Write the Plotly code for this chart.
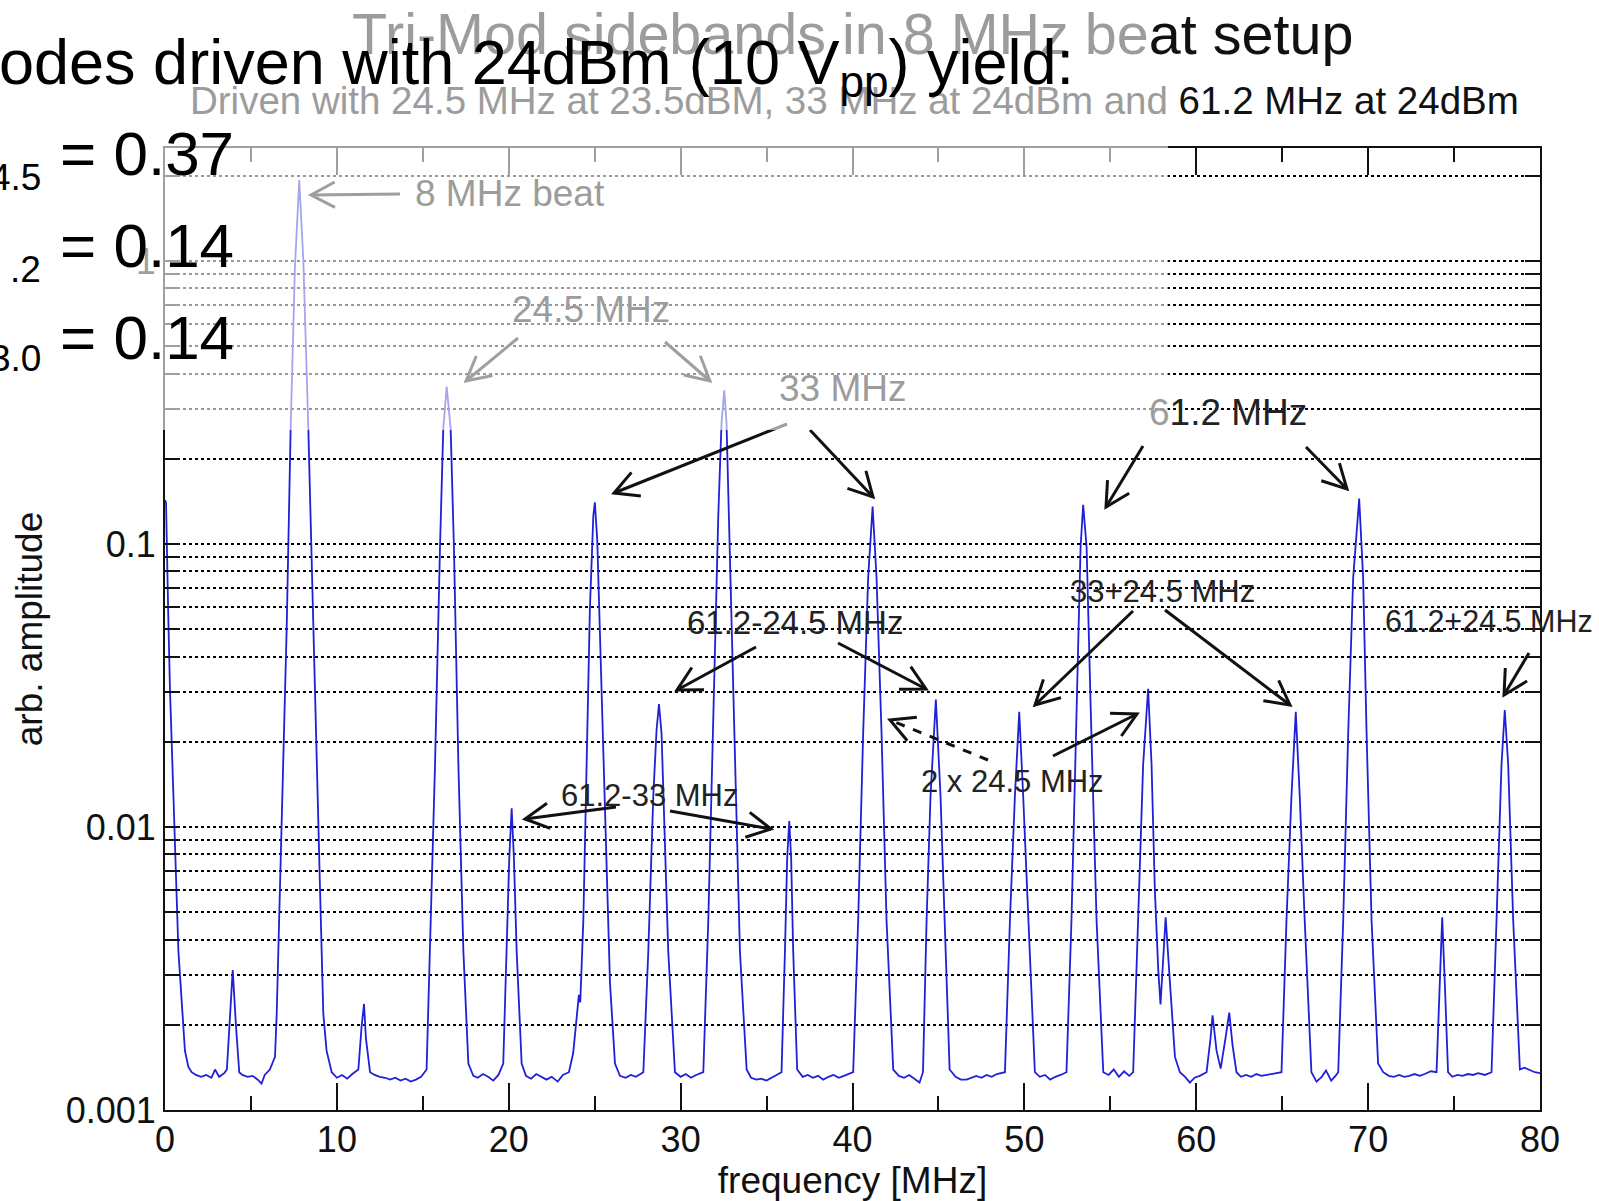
import math
import plotly.graph_objects as go

# ---------------- data ----------------
freq_mhz = [
    0.00, 0.06, 0.19, 0.29, 0.49, 0.78, 1.16, 1.36, 1.55, 1.80, 2.10, 2.40, 2.70, 2.91, 3.15,
    3.45, 3.60, 3.78, 3.94, 4.13, 4.32, 4.50, 4.80, 5.10, 5.40, 5.62, 5.80, 6.10,
    6.40, 6.50, 6.79, 7.08, 7.31, 7.56, 7.81, 8.05, 8.34, 8.59, 8.82, 9.02, 9.21, 9.40, 9.70,
    10.00, 10.30, 10.60, 10.90, 11.25, 11.44, 11.58, 11.69, 11.93,
    12.20, 12.50, 12.80, 13.10, 13.40, 13.70, 14.00, 14.30, 14.60, 14.90,
    15.22, 15.42, 15.71, 16.00, 16.19, 16.39, 16.62, 16.81, 17.07, 17.36, 17.65, 17.94,
    18.20, 18.50, 18.80, 19.10, 19.40, 19.68, 19.87, 20.03, 20.17, 20.30, 20.46, 20.75,
    21.00, 21.30, 21.60, 21.90, 22.20, 22.50, 22.85, 23.15, 23.50, 23.75, 24.00, 24.08, 24.16,
    24.34, 24.53, 24.72, 24.92, 25.01, 25.15, 25.31, 25.60, 25.89, 26.18, 26.47,
    26.80, 27.10, 27.40, 27.83, 28.12, 28.41, 28.60, 28.74, 28.89, 28.99, 29.28, 29.67,
    30.00, 30.30, 30.60, 30.90, 31.32, 31.61, 31.90, 32.19, 32.38, 32.54, 32.67, 32.86, 33.15, 33.45, 33.84,
    34.10, 34.40, 34.70, 35.00, 35.30, 35.87, 36.07, 36.20, 36.32, 36.43, 36.55, 36.78,
    37.10, 37.40, 37.70, 38.00, 38.30, 38.60, 38.90, 39.20, 39.50,
    40.04, 40.33, 40.62, 40.91, 41.17, 41.40, 41.69, 41.98, 42.37,
    42.70, 43.00, 43.30, 43.60, 43.90, 44.10, 44.31, 44.54, 44.85, 45.12, 45.37, 45.65,
    46.00, 46.30, 46.64, 46.90, 47.20, 47.50, 47.80, 48.10, 48.40,
    48.87, 49.16, 49.45, 49.70, 49.93, 50.22, 50.61, 50.90, 51.20, 51.50, 51.80, 52.10,
    52.45, 52.74, 53.03, 53.27, 53.42, 53.62, 53.85, 54.20, 54.59,
    54.90, 55.20, 55.50, 55.80, 56.10, 56.33, 56.62, 56.91, 57.20, 57.40, 57.59, 57.79, 57.92,
    58.08, 58.22, 58.47, 58.76, 59.05, 59.35, 59.63, 59.90, 60.20,
    60.60, 60.83, 60.95, 61.18, 61.42, 61.70, 61.92, 62.11, 62.34,
    62.60, 62.90, 63.20, 63.50, 63.80, 64.10, 64.40,
    64.96, 65.25, 65.54, 65.79, 66.02, 66.31, 66.70, 67.00, 67.30, 67.55, 67.85, 68.10,
    68.26, 68.55, 68.84, 69.13, 69.48, 69.71, 69.91, 70.20, 70.58, 70.88,
    71.20, 71.50, 71.80, 72.10, 72.40, 72.70, 73.00, 73.30, 73.65,
    73.98, 74.17, 74.31, 74.46, 74.65, 74.90, 75.20, 75.50, 75.80, 76.10, 76.40, 76.80,
    77.18, 77.47, 77.76, 77.95, 78.15, 78.44, 78.83, 79.10, 79.40, 79.70, 80.00,
]
amplitude = [
    0.143, 0.140, 0.0559, 0.0305, 0.0129, 0.00364, 0.00162, 0.00142, 0.00136, 0.00133, 0.00131, 0.00133, 0.00130, 0.00139, 0.00131,
    0.00135, 0.00139, 0.00219, 0.00312, 0.00198, 0.00136, 0.00133, 0.00131, 0.00132, 0.00128, 0.00124, 0.00133, 0.00139,
    0.00154, 0.00219, 0.0100, 0.0505, 0.255, 0.951, 1.93, 1.00, 0.255, 0.0588, 0.0166, 0.00603, 0.00219, 0.00162, 0.00136,
    0.00130, 0.00133, 0.00129, 0.00134, 0.00139, 0.00198, 0.00237, 0.00179, 0.00136,
    0.00133, 0.00131, 0.00130, 0.00128, 0.00130, 0.00127, 0.00129, 0.00126, 0.00128, 0.00131,
    0.00139, 0.00364, 0.0166, 0.0975, 0.255, 0.360, 0.255, 0.0975, 0.0166, 0.00364, 0.00146, 0.00132,
    0.00130, 0.00134, 0.00131, 0.00127, 0.00133, 0.00146, 0.00364, 0.00777, 0.01164, 0.00777, 0.00364, 0.00146,
    0.00132, 0.00129, 0.00134, 0.00131, 0.00128, 0.00131, 0.00126, 0.00133, 0.00136, 0.00159, 0.00220, 0.00255, 0.00240,
    0.00468, 0.0166, 0.0588, 0.1256, 0.1403, 0.1025, 0.0457, 0.0100, 0.00282, 0.00146, 0.00132,
    0.00130, 0.00133, 0.00131, 0.00136, 0.00364, 0.0129, 0.0220, 0.0272, 0.0214, 0.0129, 0.00364, 0.00136,
    0.00131, 0.00134, 0.00130, 0.00133, 0.00136, 0.00468, 0.0275, 0.1256, 0.268, 0.349, 0.268, 0.0975, 0.0166, 0.00364, 0.00139,
    0.00130, 0.00128, 0.00129, 0.00127, 0.00130, 0.00136, 0.00364, 0.00777, 0.0105, 0.00777, 0.00364, 0.00139,
    0.00131, 0.00133, 0.00130, 0.00132, 0.00128, 0.00131, 0.00133, 0.00130, 0.00132,
    0.00136, 0.00468, 0.0214, 0.0758, 0.1355, 0.0758, 0.0214, 0.00468, 0.00139,
    0.00132, 0.00130, 0.00133, 0.00129, 0.00125, 0.00136, 0.00468, 0.0129, 0.0282, 0.0129, 0.00468, 0.00139,
    0.00131, 0.00128, 0.00128, 0.00130, 0.00132, 0.00130, 0.00133, 0.00131, 0.00134,
    0.00136, 0.00468, 0.0129, 0.0255, 0.0129, 0.00468, 0.00136, 0.00131, 0.00133, 0.00128, 0.00131, 0.00133,
    0.00136, 0.00468, 0.0275, 0.0975, 0.1375, 0.0975, 0.0275, 0.00468, 0.00136,
    0.00133, 0.00139, 0.00131, 0.00137, 0.00132, 0.00136, 0.00468, 0.0166, 0.0308, 0.0166, 0.00603, 0.00312, 0.00236,
    0.00364, 0.00480, 0.00282, 0.00154, 0.00136, 0.00131, 0.00125, 0.00130, 0.00132,
    0.00136, 0.00179, 0.00216, 0.00162, 0.00140, 0.00179, 0.00221, 0.00170, 0.00136,
    0.00131, 0.00133, 0.00131, 0.00134, 0.00132, 0.00133, 0.00134,
    0.00136, 0.00468, 0.0129, 0.0255, 0.0129, 0.00468, 0.00136, 0.00126, 0.00131, 0.00138, 0.00127, 0.00132,
    0.00136, 0.00468, 0.0214, 0.0758, 0.1446, 0.0758, 0.0214, 0.00468, 0.00146, 0.00136,
    0.00132, 0.00131, 0.00133, 0.00131, 0.00132, 0.00134, 0.00132, 0.00134, 0.00137,
    0.00136, 0.00282, 0.00480, 0.00282, 0.00136, 0.00131, 0.00133, 0.00132, 0.00134, 0.00133, 0.00135, 0.00133,
    0.00136, 0.00468, 0.0166, 0.0259, 0.0166, 0.00468, 0.00139, 0.00141, 0.00138, 0.00136, 0.00135,
]

x_tick_vals = [0, 10, 20, 30, 40, 50, 60, 70, 80]
y_tick_vals = [0.001, 0.01, 0.1, 1]
y_tick_text = ["0.001", "0.01", "0.1", "1"]
y_minor_vals = [0.002, 0.003, 0.004, 0.005, 0.006, 0.007, 0.008, 0.009,
                0.02, 0.03, 0.04, 0.05, 0.06, 0.07, 0.08, 0.09,
                0.2, 0.3, 0.4, 0.5, 0.6, 0.7, 0.8, 0.9, 2]

title_grey = "Tri-Mod sidebands in 8 MHz be"
title_black = "at setup"
subtitle_grey = "Driven with 24.5 MHz at 23.5dBM, 33 MHz at 24dBm and"
subtitle_black = "61.2 MHz at 24dBm"

# ---------------- layout geometry (pixels) ----------------
W, H = 1599, 1201
L, R, T, B = 165, 1540, 148, 1110
FONT = "Liberation Sans, Arial, Helvetica, sans-serif"
GREY = "#9c9c9c"
DARK = "#222222"


def px(x):
    return (x - L) / (R - L)


def py(y):
    return (B - y) / (B - T)


fig = go.Figure()
fig.add_trace(go.Scatter(x=freq_mhz, y=amplitude, mode="lines",
                         line=dict(color="#2020d8", width=1.8),
                         hoverinfo="skip", showlegend=False))

grid_style = dict(gridcolor="#000000", griddash="3px,3px", gridwidth=1.5)

fig.update_layout(
    template="none",
    width=W, height=H,
    margin=dict(l=L, r=W - R, t=T, b=H - B, autoexpand=False),
    paper_bgcolor="white", plot_bgcolor="white",
    font=dict(family=FONT, color="#111111"),
    showlegend=False,
    xaxis=dict(
        automargin=False,
        range=[0, 80], tickvals=x_tick_vals, ticks="inside", ticklen=27,
        tickwidth=1.5, tickcolor="#111111", ticklabelstandoff=-3,
        minor=dict(dtick=5, tick0=0, ticks="inside", ticklen=14,
                   tickwidth=1.5, tickcolor="#111111", showgrid=False),
        showline=True, linecolor="#111111", linewidth=2, mirror="ticks",
        showgrid=False, zeroline=False,
        tickfont=dict(size=36, color="#111111"),
        title=dict(text="frequency [MHz]", font=dict(size=37, color="#111111"), standoff=4),
    ),
    yaxis=dict(
        automargin=False,
        type="log", range=[-3, math.log10(2.506)],
        tickvals=y_tick_vals, ticktext=y_tick_text,
        ticks="inside", ticklen=15, tickwidth=1.5, tickcolor="#111111",
        showline=True, linecolor="#111111", linewidth=2, mirror="ticks",
        showgrid=True, **grid_style, zeroline=False,
        minor=dict(tickvals=y_minor_vals, ticks="inside", ticklen=15,
                   tickwidth=1.5, tickcolor="#111111", showgrid=True, **grid_style),
        tickfont=dict(size=36, color="#111111"),
        title=dict(text="arb. amplitude", font=dict(size=37, color="#111111"), standoff=12),
    ),
)

# ---------------- arrows (drawn as shapes so the faded overlay covers them) -------------
arrows = [
    (400, 194, 311, 195, "solid"),     # 8 MHz beat
    (518, 338, 466, 381, "solid"),     # 24.5 left
    (665, 342, 710, 381, "solid"),     # 24.5 right
    (787, 424, 614, 493, "solid"),     # 33 left
    (810, 430, 873, 497, "solid"),     # 33 right
    (1143, 446, 1106, 507, "solid"),   # 61.2 left
    (1306, 447, 1347, 489, "solid"),   # 61.2 right
    (756, 647, 677, 690, "solid"),     # 61.2-24.5 left
    (838, 643, 926, 689, "solid"),     # 61.2-24.5 right
    (616, 807, 525, 819, "solid"),     # 61.2-33 left
    (670, 811, 771, 829, "solid"),     # 61.2-33 right
    (988, 760, 890, 720, "dash"),      # 2x24.5 left (dashed)
    (1053, 756, 1137, 714, "solid"),   # 2x24.5 right
    (1133, 611, 1035, 705, "solid"),   # 33+24.5 left
    (1165, 610, 1290, 705, "solid"),   # 33+24.5 right
    (1529, 653, 1504, 695, "solid"),   # 61.2+24.5
]

shapes = []
for tx, ty, hx, hy, dash in arrows:
    shapes.append(dict(type="line", xref="paper", yref="paper",
                       x0=px(tx), y0=py(ty), x1=px(hx), y1=py(hy),
                       line=dict(color="#111111", width=3, dash=dash), layer="above"))
    dx, dy = hx - tx, hy - ty
    n = math.hypot(dx, dy)
    bx, by = -dx / n, -dy / n
    pts = []
    for s in (1, -1):
        a = math.radians(28) * s
        rx = bx * math.cos(a) - by * math.sin(a)
        ry = bx * math.sin(a) + by * math.cos(a)
        pts.append((hx + 27 * rx, hy + 27 * ry))
    path = "M {:.5f},{:.5f} L {:.5f},{:.5f} L {:.5f},{:.5f}".format(
        px(pts[0][0]), py(pts[0][1]), px(hx), py(hy), px(pts[1][0]), py(pts[1][1]))
    shapes.append(dict(type="path", xref="paper", yref="paper", path=path,
                       line=dict(color="#111111", width=3), layer="above"))

# translucent white box from the slide overlapping the upper-left of the plot
shapes.append(dict(type="rect", xref="paper", yref="paper",
                   x0=px(0), x1=px(1168), y0=py(430), y1=py(0),
                   fillcolor="white", opacity=0.6, line=dict(width=0), layer="above"))
fig.update_layout(shapes=shapes)

# ---------------- text ----------------
ann = []


def text(x, y, s, size, color=DARK, xanchor="center"):
    ann.append(dict(xref="paper", yref="paper", x=px(x), y=py(y), text=s,
                    showarrow=False, xanchor=xanchor, yanchor="middle",
                    font=dict(size=size, color=color, family=FONT)))


# MATLAB title lines (partly faded by slide box)
text(852, 34, '<span style="color:%s">%s</span>%s' % (GREY, title_grey, title_black), 57.5, "#111111")
text(854, 101, '<span style="color:%s">%s</span> %s' % (GREY, subtitle_grey, subtitle_black), 38.5, "#111111")

# plot annotations
text(413, 194, "8 MHz beat", 37, GREY, "left")
text(591, 310, "24.5 MHz", 37, GREY)
text(842, 388, "33 MHz", 37, GREY)
text(1228, 412, '<span style="color:%s">6</span>1.2 MHz' % GREY, 37, DARK)
text(795, 622, "61.2-24.5 MHz", 33)
text(649, 795, "61.2-33 MHz", 31)
text(1012, 781, "2 x 24.5 MHz", 31)
text(1162, 591, "33+24.5 MHz", 31)
text(1489, 621, "61.2+24.5 MHz", 30.5)

# slide text in black on top
text(-3, 66, "odes driven with 24dBm (10 V<sub>pp</sub>) yield:", 63, "#000000", "left")
text(58, 154, "= 0.37", 62, "#000000", "left")
text(58, 246, "= 0.14", 62, "#000000", "left")
text(58, 338, "= 0.14", 62, "#000000", "left")
for sub, yy in (("4.5", 178), (".2", 270), ("3.0", 358)):
    ann.append(dict(xref="paper", yref="paper", x=px(43), y=py(yy), text=sub, showarrow=False,
                    xanchor="right", yanchor="middle",
                    font=dict(size=37, color="#000000", family=FONT)))

fig.update_layout(annotations=ann)

fig.write_html(
    "out.html",
    config={"displayModeBar": False},
    post_script="document.body.style.margin='0px';document.body.style.padding='0px';"
                "document.body.style.overflow='hidden';",
)
